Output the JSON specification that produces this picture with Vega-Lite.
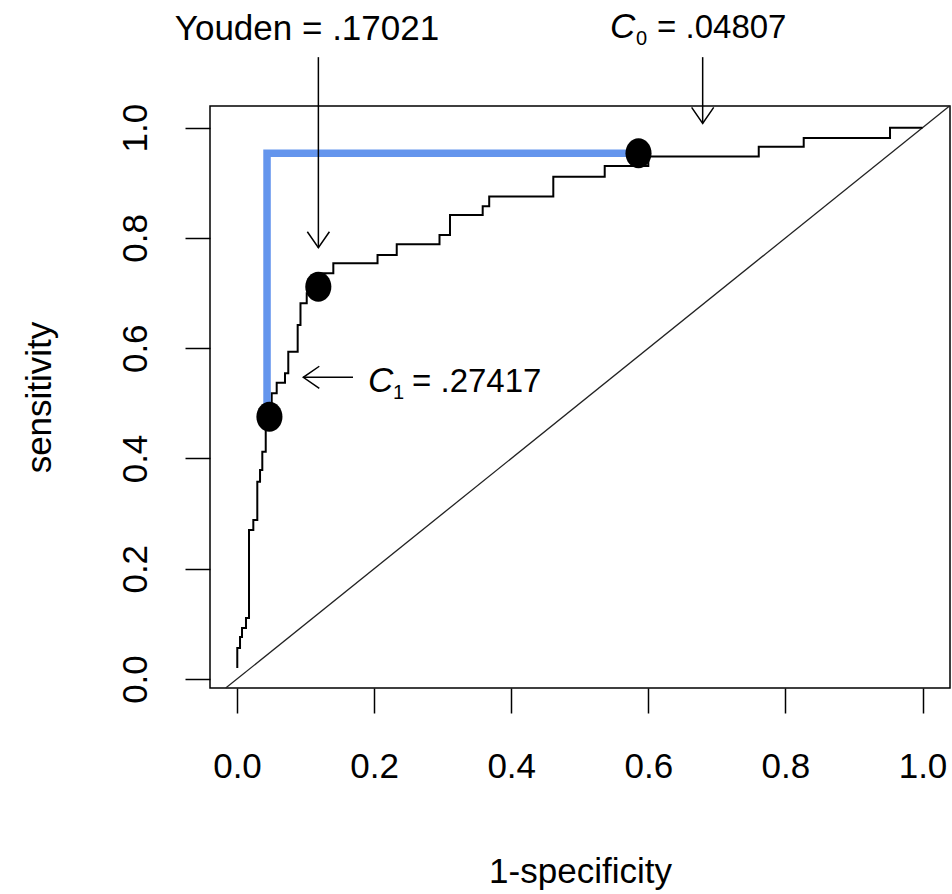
{
  "$schema": "https://vega.github.io/schema/vega-lite/v6.json",
  "autosize": {"type": "none"},
  "width": 740,
  "height": 582,
  "padding": {"left": 210, "top": 106, "right": 2, "bottom": 206},
  "background": "white",
  "config": {
    "font": "Liberation Sans",
    "view": {"stroke": "black", "strokeWidth": 1.5}
  },
  "encoding": {
    "x": {
      "field": "x", "type": "quantitative",
      "scale": {"domain": [-0.0394, 1.0401], "nice": false, "zero": false},
      "axis": {
        "title": "1-specificity", "values": [0, 0.2, 0.4, 0.6, 0.8, 1.0], "format": ".1f",
        "grid": false, "domain": false, "tickSize": 25, "tickWidth": 1.5, "tickColor": "black",
        "labelFontSize": 35, "labelColor": "black", "labelBaseline": "top", "labelPadding": 36,
        "labelFont": "Liberation Sans", "labelOverlap": false, "labelFlush": false,
        "titleFont": "Liberation Sans", "titleFontSize": 35, "titleFontWeight": "normal", "titleColor": "black",
        "titleBaseline": "alphabetic", "titleY": 194
      }
    },
    "y": {
      "field": "y", "type": "quantitative",
      "scale": {"domain": [-0.0163, 1.0394], "nice": false, "zero": false},
      "axis": {
        "title": "sensitivity", "values": [0, 0.2, 0.4, 0.6, 0.8, 1.0], "format": ".1f",
        "grid": false, "domain": false, "tickSize": 25, "tickWidth": 1.5, "tickColor": "black",
        "labelFontSize": 35, "labelColor": "black", "labelAngle": -90, "labelAlign": "center",
        "labelBaseline": "alphabetic", "labelPadding": 39, "labelOverlap": false, "labelFlush": false,
        "labelFont": "Liberation Sans",
        "titleFont": "Liberation Sans", "titleFontSize": 35, "titleFontWeight": "normal", "titleColor": "black",
        "titleAngle": -90, "titleBaseline": "alphabetic", "titleX": -160
      }
    }
  },
  "layer": [
    {
      "data": {"values": [{"x": -0.0165, "y": -0.0165, "x2": 1.0394, "y2": 1.0394}]},
      "mark": {"type": "rule", "color": "#222", "strokeWidth": 1.3},
      "encoding": {"x2": {"field": "x2"}, "y2": {"field": "y2"}}
    },
    {
      "data": {"values": [
        {"i": 1, "x": 0.0004, "y": 0.0200}, {"i": 2, "x": 0.0004, "y": 0.0562},
        {"i": 3, "x": 0.0044, "y": 0.0562}, {"i": 4, "x": 0.0044, "y": 0.0762},
        {"i": 5, "x": 0.0073, "y": 0.0762}, {"i": 6, "x": 0.0073, "y": 0.0925},
        {"i": 7, "x": 0.0131, "y": 0.0925}, {"i": 8, "x": 0.0131, "y": 0.1106},
        {"i": 9, "x": 0.0175, "y": 0.1106}, {"i": 10, "x": 0.0175, "y": 0.2703},
        {"i": 11, "x": 0.0238, "y": 0.2703}, {"i": 12, "x": 0.0238, "y": 0.2884},
        {"i": 13, "x": 0.0296, "y": 0.2884}, {"i": 14, "x": 0.0296, "y": 0.3579},
        {"i": 15, "x": 0.0336, "y": 0.3579}, {"i": 16, "x": 0.0336, "y": 0.3791},
        {"i": 17, "x": 0.0369, "y": 0.3791}, {"i": 18, "x": 0.0369, "y": 0.4123},
        {"i": 19, "x": 0.0419, "y": 0.4123}, {"i": 20, "x": 0.0419, "y": 0.4486},
        {"i": 21, "x": 0.0419, "y": 0.4698}, {"i": 22, "x": 0.0506, "y": 0.4698},
        {"i": 23, "x": 0.0506, "y": 0.5182}, {"i": 24, "x": 0.0579, "y": 0.5182},
        {"i": 25, "x": 0.0579, "y": 0.5375}, {"i": 26, "x": 0.0700, "y": 0.5375},
        {"i": 27, "x": 0.0700, "y": 0.5545}, {"i": 28, "x": 0.0748, "y": 0.5545},
        {"i": 29, "x": 0.0748, "y": 0.5937}, {"i": 30, "x": 0.0885, "y": 0.5937},
        {"i": 31, "x": 0.0885, "y": 0.6421}, {"i": 32, "x": 0.0926, "y": 0.6421},
        {"i": 33, "x": 0.0926, "y": 0.6815}, {"i": 34, "x": 0.1017, "y": 0.6815},
        {"i": 35, "x": 0.1017, "y": 0.6996}, {"i": 36, "x": 0.1094, "y": 0.6996},
        {"i": 37, "x": 0.1094, "y": 0.7237}, {"i": 38, "x": 0.1211, "y": 0.7237},
        {"i": 39, "x": 0.1211, "y": 0.7359}, {"i": 40, "x": 0.1405, "y": 0.7359},
        {"i": 41, "x": 0.1405, "y": 0.7540}, {"i": 42, "x": 0.2050, "y": 0.7540},
        {"i": 43, "x": 0.2050, "y": 0.7691}, {"i": 44, "x": 0.2330, "y": 0.7691},
        {"i": 45, "x": 0.2330, "y": 0.7885}, {"i": 46, "x": 0.2954, "y": 0.7885},
        {"i": 47, "x": 0.2954, "y": 0.8054}, {"i": 48, "x": 0.3107, "y": 0.8054},
        {"i": 49, "x": 0.3107, "y": 0.8416}, {"i": 50, "x": 0.3584, "y": 0.8416},
        {"i": 51, "x": 0.3584, "y": 0.8574}, {"i": 52, "x": 0.3679, "y": 0.8574},
        {"i": 53, "x": 0.3679, "y": 0.8752}, {"i": 54, "x": 0.4614, "y": 0.8752},
        {"i": 55, "x": 0.4614, "y": 0.9111}, {"i": 56, "x": 0.5364, "y": 0.9111},
        {"i": 57, "x": 0.5364, "y": 0.9305}, {"i": 58, "x": 0.6000, "y": 0.9305},
        {"i": 59, "x": 0.6000, "y": 0.9478}, {"i": 60, "x": 0.7611, "y": 0.9478},
        {"i": 61, "x": 0.7611, "y": 0.9655}, {"i": 62, "x": 0.8267, "y": 0.9655},
        {"i": 63, "x": 0.8267, "y": 0.9813}, {"i": 64, "x": 0.9526, "y": 0.9813},
        {"i": 65, "x": 0.9526, "y": 1.0}, {"i": 66, "x": 1.0, "y": 1.0}
      ]},
      "mark": {"type": "line", "color": "black", "strokeWidth": 2, "strokeJoin": "miter"},
      "encoding": {"order": {"field": "i", "type": "quantitative"}}
    },
    {
      "data": {"values": [
        {"i": 1, "x": 0.0438, "y": 0.4756},
        {"i": 2, "x": 0.0438, "y": 0.9536},
        {"i": 3, "x": 0.5857, "y": 0.9536}
      ]},
      "mark": {"type": "line", "color": "#6495ED", "strokeWidth": 7.5, "strokeJoin": "miter", "strokeCap": "butt"},
      "encoding": {"order": {"field": "i", "type": "quantitative"}}
    },
    {
      "data": {"values": [
        {"label": "C1", "x": 0.0473, "y": 0.4756},
        {"label": "Youden", "x": 0.1186, "y": 0.7116},
        {"label": "C0", "x": 0.5857, "y": 0.9536}
      ]},
      "mark": {"type": "point", "shape": "M-0.87,0A0.87,1,0,1,0,0.87,0A0.87,1,0,1,0,-0.87,0Z", "size": 900, "filled": true, "color": "black", "opacity": 1}
    },
    {
      "data": {"values": [
        {"x": 0.1187, "y": 1.128, "x2": 0.1187, "y2": 0.7823},
        {"x": 0.6793, "y": 1.128, "x2": 0.6793, "y2": 1.008},
        {"x": 0.0967, "y": 0.5473, "x2": 0.1692, "y2": 0.5473}
      ]},
      "mark": {"type": "rule", "color": "black", "strokeWidth": 1.5},
      "encoding": {"x2": {"field": "x2"}, "y2": {"field": "y2"}}
    },
    {
      "data": {"values": [
        {"x": 0.1187, "y": 0.7823},
        {"x": 0.6793, "y": 1.008}
      ]},
      "mark": {"type": "point", "shape": "M-0.69,-1L0,0L0.69,-1", "size": 1024, "filled": false, "stroke": "black", "strokeWidth": 1.5, "opacity": 1}
    },
    {
      "data": {"values": [{"x": 0.0967, "y": 0.5473}]},
      "mark": {"type": "point", "shape": "M1,-0.69L0,0L1,0.69", "size": 1024, "filled": false, "stroke": "black", "strokeWidth": 1.5, "opacity": 1}
    },
    {
      "data": {"values": [{"x": 0.1021, "y": 1.159, "text": "Youden = .17021"}]},
      "mark": {"type": "text", "fontSize": 35, "align": "center", "baseline": "alphabetic", "color": "black"},
      "encoding": {"text": {"field": "text"}}
    },
    {
      "data": {"values": [
        {"x": 0.5441, "y": 1.1627, "text": "C"},
        {"x": 0.1911, "y": 0.5206, "text": "C"}
      ]},
      "mark": {"type": "text", "fontSize": 35, "fontStyle": "italic", "align": "left", "baseline": "alphabetic", "color": "black"},
      "encoding": {"text": {"field": "text"}}
    },
    {
      "data": {"values": [
        {"x": 0.5821, "y": 1.150, "text": "0"},
        {"x": 0.2276, "y": 0.5079, "text": "1"}
      ]},
      "mark": {"type": "text", "fontSize": 20, "align": "left", "baseline": "alphabetic", "color": "black"},
      "encoding": {"text": {"field": "text"}}
    },
    {
      "data": {"values": [
        {"x": 0.6128, "y": 1.1627, "text": "= .04807"},
        {"x": 0.2553, "y": 0.5206, "text": "= .27417"}
      ]},
      "mark": {"type": "text", "fontSize": 33, "align": "left", "baseline": "alphabetic", "color": "black"},
      "encoding": {"text": {"field": "text"}}
    }
  ]
}
